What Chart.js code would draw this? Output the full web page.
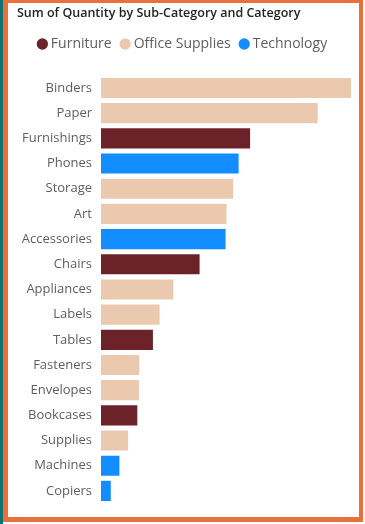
<!DOCTYPE html>
<html>
<head>
<meta charset="utf-8">
<script src="https://cdn.jsdelivr.net/npm/chart.js@4/dist/chart.umd.min.js"></script>
<style>
html,body{margin:0;padding:0;background:#fff;width:365px;height:524px;overflow:hidden;}
#teal{position:absolute;left:0;top:0;width:3px;height:524px;background:#0E7372;}
#frame{position:absolute;left:3px;top:0;width:360px;height:522px;background:#E8703A;}
#panel{position:absolute;left:8px;top:3px;width:351px;height:514px;background:#fff;}
canvas{display:block;}
</style>
</head>
<body>
<div id="teal"></div>
<div id="frame"></div>
<div id="panel"><canvas id="c" width="351" height="514"></canvas></div>
<script>
const subCategories = ["Binders","Paper","Furnishings","Phones","Storage","Art","Accessories","Chairs","Appliances","Labels","Tables","Fasteners","Envelopes","Bookcases","Supplies","Machines","Copiers"];
const quantities = [5974,5178,3563,3289,3158,3000,2976,2356,1729,1400,1241,914,906,868,647,440,234];
const categoryOf = ["Office Supplies","Office Supplies","Furniture","Technology","Office Supplies","Office Supplies","Technology","Furniture","Office Supplies","Office Supplies","Furniture","Office Supplies","Office Supplies","Furniture","Office Supplies","Technology","Technology"];
const categories = ["Furniture","Office Supplies","Technology"];
const categoryColors = ["#6B2329","#EBC9AF","#118DFF"];

const datasets = categories.map((cat, i) => ({
  label: cat,
  data: quantities.map((q, j) => categoryOf[j] === cat ? q : null),
  backgroundColor: categoryColors[i],
  borderWidth: 0,
  barPercentage: 0.8,
  categoryPercentage: 1.0
}));

const FONT = "'Open Sans', 'Segoe UI', sans-serif";

const legendSpacer = {
  id: 'legendSpacer',
  beforeInit(chart) {
    const origFit = chart.legend.fit;
    chart.legend.fit = function () {
      origFit.bind(chart.legend)();
      this.height += 14.4;
    };
  }
};

new Chart(document.getElementById('c'), {
  type: 'bar',
  data: { labels: subCategories, datasets },
  plugins: [legendSpacer],
  options: {
    indexAxis: 'y',
    responsive: false,
    animation: false,
    layout: { padding: { left: 9, right: 8, top: 0, bottom: 13.5 } },
    plugins: {
      title: {
        display: true,
        text: 'Sum of Quantity by Sub-Category and Category',
        align: 'start',
        color: '#252423',
        font: { family: FONT, size: 12.5, weight: '600' },
        padding: { top: 3, bottom: 4 }
      },
      legend: {
        display: true,
        position: 'top',
        labels: {
          usePointStyle: true,
          pointStyle: 'circle',
          boxWidth: 3,
          boxHeight: 8,
          padding: 12,
          color: '#605E5C',
          font: { family: FONT, size: 14 }
        }
      },
      tooltip: { enabled: false }
    },
    scales: {
      x: { display: false, min: 0, max: 5974, stacked: true },
      y: {
        stacked: true,
        grid: { display: false, drawTicks: false },
        border: { display: false },
        ticks: { color: '#605E5C', font: { family: FONT, size: 13 }, padding: 9, autoSkip: false },
        afterFit: (s) => { s.width = 84; s.paddingTop = 0; s.paddingBottom = 0; }
      }
    }
  }
});
</script>
</body>
</html>
